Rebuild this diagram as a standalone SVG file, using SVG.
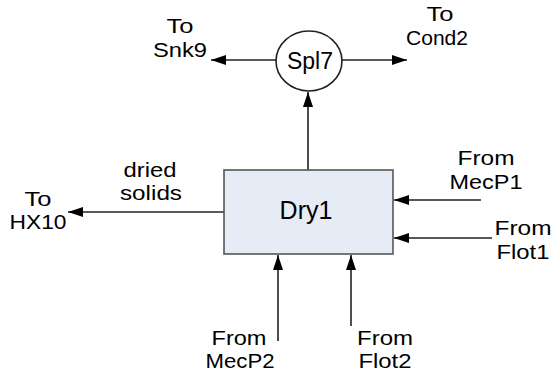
<svg xmlns="http://www.w3.org/2000/svg" width="551" height="374" viewBox="0 0 551 374">
<style>
text{font-family:"Liberation Sans",Arial,sans-serif;fill:#000;text-anchor:middle}
.lbl{font-size:21px}
.c{stroke:#222;stroke-width:1.6;fill:none}
</style>
<defs>
<marker id="ah" viewBox="0 0 15 10" refX="15" refY="5" markerWidth="15" markerHeight="10" markerUnits="userSpaceOnUse" orient="auto">
<path d="M0,0 L15,5 L0,10 z" fill="#000"/>
</marker>
</defs>
<rect width="551" height="374" fill="#fff"/>
<g id="connectors">
<line class="c" x1="308" y1="170" x2="308" y2="92" marker-end="url(#ah)"/>
<line class="c" x1="276" y1="60" x2="211" y2="60" marker-end="url(#ah)"/>
<line class="c" x1="342" y1="60" x2="407" y2="60" marker-end="url(#ah)"/>
<line class="c" x1="224" y1="212" x2="68" y2="212" marker-end="url(#ah)"/>
<line class="c" x1="481" y1="200" x2="394" y2="200" marker-end="url(#ah)"/>
<line class="c" x1="492" y1="238" x2="394" y2="238" marker-end="url(#ah)"/>
<line class="c" x1="278" y1="341" x2="278" y2="255" marker-end="url(#ah)"/>
<line class="c" x1="351" y1="326" x2="351" y2="255" marker-end="url(#ah)"/>
</g>
<g id="Spl7">
<ellipse cx="309" cy="61" rx="33" ry="30" fill="#fff" stroke="#222" stroke-width="1.6"/>
<text x="310" y="69" font-size="23">Spl7</text>
</g>
<g id="Dry1">
<rect x="224" y="170" width="169" height="84" fill="#e6ecf6" stroke="#555" stroke-width="1.6"/>
<text x="306" y="219" font-size="25">Dry1</text>
</g>
<g id="Snk9">
<text class="lbl" x="180" y="33" textLength="27" lengthAdjust="spacingAndGlyphs">To</text>
<text class="lbl" x="180" y="57" textLength="54" lengthAdjust="spacingAndGlyphs">Snk9</text>
</g>
<g id="Cond2">
<text class="lbl" x="440" y="21" textLength="27" lengthAdjust="spacingAndGlyphs">To</text>
<text class="lbl" x="437" y="45" textLength="62" lengthAdjust="spacingAndGlyphs">Cond2</text>
</g>
<g id="HX10">
<text class="lbl" x="38" y="206" textLength="27" lengthAdjust="spacingAndGlyphs">To</text>
<text class="lbl" x="38" y="229" textLength="57" lengthAdjust="spacingAndGlyphs">HX10</text>
</g>
<g id="dried-solids">
<text class="lbl" x="150" y="177" textLength="53" lengthAdjust="spacingAndGlyphs">dried</text>
<text class="lbl" x="151" y="200" textLength="62" lengthAdjust="spacingAndGlyphs">solids</text>
</g>
<g id="MecP1">
<text class="lbl" x="486" y="165" textLength="57" lengthAdjust="spacingAndGlyphs">From</text>
<text class="lbl" x="486" y="189" textLength="73" lengthAdjust="spacingAndGlyphs">MecP1</text>
</g>
<g id="Flot1">
<text class="lbl" x="523" y="235" textLength="57" lengthAdjust="spacingAndGlyphs">From</text>
<text class="lbl" x="523" y="259" textLength="53" lengthAdjust="spacingAndGlyphs">Flot1</text>
</g>
<g id="MecP2">
<text class="lbl" x="239" y="345" textLength="55" lengthAdjust="spacingAndGlyphs">From</text>
<text class="lbl" x="240" y="368" textLength="69" lengthAdjust="spacingAndGlyphs">MecP2</text>
</g>
<g id="Flot2">
<text class="lbl" x="385" y="345" textLength="56" lengthAdjust="spacingAndGlyphs">From</text>
<text class="lbl" x="385" y="368" textLength="53" lengthAdjust="spacingAndGlyphs">Flot2</text>
</g>
</svg>
